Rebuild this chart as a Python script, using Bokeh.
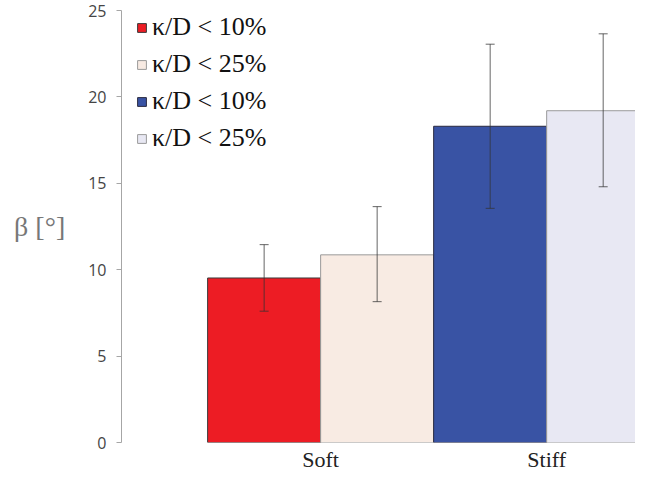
from bokeh.plotting import figure
from bokeh.models import (ColumnDataSource, Range1d, FixedTicker, Whisker, TeeHead,
                          Legend, LegendItem)
from bokeh.embed import file_html
from bokeh.resources import INLINE

# ---- data ----
categories = ["Soft", "Stiff"]
series_group = ["Soft", "Soft", "Stiff", "Stiff"]
series_labels = ["κ/D < 10%", "κ/D < 25%", "κ/D < 10%", "κ/D < 25%"]
beta_mean = [9.52, 10.86, 18.3, 19.2]
beta_upper = [11.45, 13.65, 23.05, 23.65]
beta_lower = [7.6, 8.15, 13.55, 14.8]
y_ticks = [0, 5, 10, 15, 20, 25]

# ---- styles ----
fill_colors = ["#ED1C24", "#F8EBE3", "#3953A4", "#E8E8F3"]
line_colors = ["#3a3a3a", "#9a9a9a", "#2a2a40", "#9a9a9a"]
bar_width = 0.5

# dodge: first series of each group on the left, second on the right
x_pos = []
seen = {}
for g in series_group:
    k = seen.get(g, 0)
    seen[g] = k + 1
    x_pos.append(categories.index(g) + (k - 0.5) * bar_width)

src = ColumnDataSource(dict(x=x_pos, top=beta_mean, upper=beta_upper, lower=beta_lower,
                            fill=fill_colors, line=line_colors, label=series_labels))

p = figure(width=635, height=474, output_backend="svg", toolbar_location=None,
           x_range=Range1d(-0.881, 1.393), y_range=Range1d(0, 25),
           min_border_left=121, min_border_right=0, min_border_top=10, min_border_bottom=30)
p.outline_line_color = None
p.grid.visible = False
p.background_fill_color = "white"

bars = p.vbar(x="x", top="top", width=bar_width, bottom=0, source=src,
              fill_color="fill", line_color="line", line_width=1)

wh = Whisker(source=src, base="x", upper="upper", lower="lower",
             line_color="#333333", line_alpha=0.75, line_width=1, level="overlay",
             upper_head=TeeHead(size=9, line_color="#333333", line_alpha=0.75),
             lower_head=TeeHead(size=9, line_color="#333333", line_alpha=0.75))
p.add_layout(wh)

# y axis
ya = p.yaxis[0]
ya.ticker = FixedTicker(ticks=y_ticks)
ya.axis_line_color = "#a6a6a6"
ya.major_tick_line_color = "#a6a6a6"
ya.major_tick_out = 5
ya.major_tick_in = 0
ya.minor_tick_line_color = None
ya.major_label_text_font = "Open Sans"
ya.major_label_text_font_size = "16px"
ya.major_label_text_color = "#454545"
ya.major_label_standoff = 10
ya.axis_label = "β [°]"
ya.axis_label_orientation = "horizontal"
ya.axis_label_text_font = "Liberation Serif"
ya.axis_label_text_font_style = "normal"
ya.axis_label_text_font_size = "28px"
ya.axis_label_text_color = "#777777"
ya.axis_label_standoff = 20

# x axis
xa = p.xaxis[0]
xa.ticker = FixedTicker(ticks=list(range(len(categories))))
xa.major_label_overrides = {i: c for i, c in enumerate(categories)}
xa.axis_line_color = None
xa.major_tick_line_color = None
xa.major_tick_out = 0
xa.major_tick_in = 0
xa.minor_tick_line_color = None
xa.major_label_text_font = "Liberation Serif"
xa.major_label_text_font_size = "22px"
xa.major_label_text_color = "#222222"
xa.major_label_standoff = 4

items = [LegendItem(label=series_labels[i], renderers=[bars], index=i) for i in range(len(series_labels))]
legend = Legend(items=items, location=(15, 289), orientation="vertical",
                border_line_color=None, background_fill_alpha=0,
                padding=0, margin=0, spacing=7, label_height=27,
                glyph_width=11, glyph_height=11, label_standoff=5,
                label_text_font="Liberation Serif", label_text_font_size="26px",
                label_text_color="#111111")
p.add_layout(legend, "center")

open("out.html", "w").write(file_html(p, INLINE))
